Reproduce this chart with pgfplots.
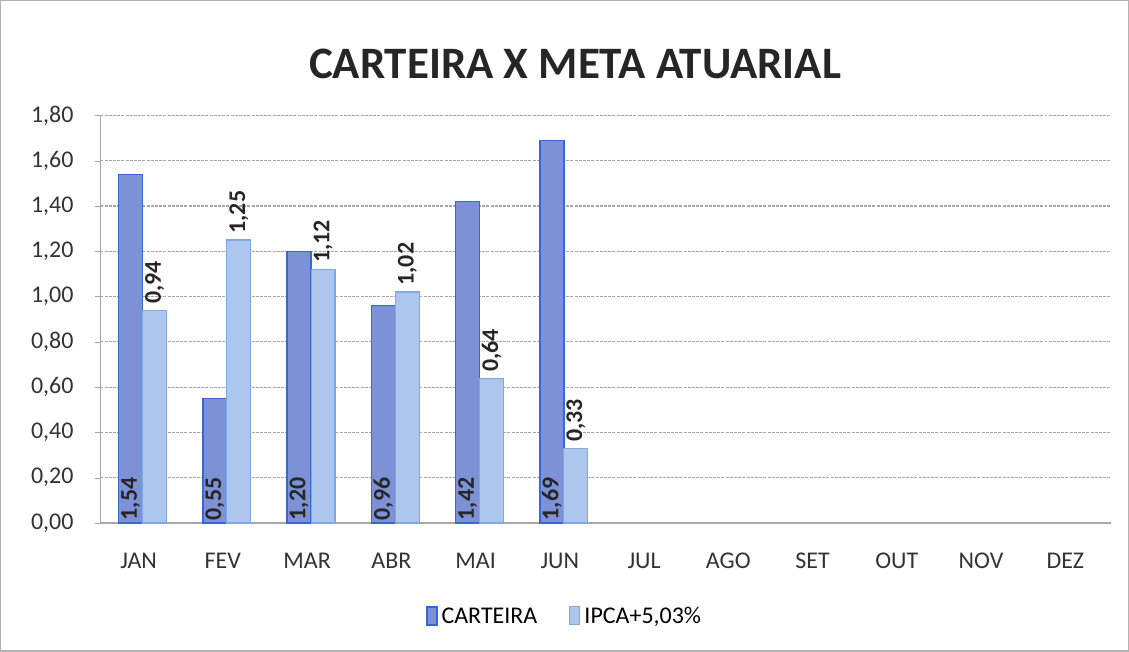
\documentclass[border=0pt]{standalone}
\usepackage{pgfplots}
\pgfplotsset{compat=1.18}
\usepackage{fontspec}
\setmainfont{Carlito}
\definecolor{cartfill}{RGB}{125,145,215}
\definecolor{cartdraw}{RGB}{55,105,210}
\definecolor{ipcafill}{RGB}{172,198,238}
\definecolor{ipcadraw}{RGB}{125,170,230}
\begin{document}
\begin{tikzpicture}
\draw[gray!60, line width=0.6pt] (0,0) rectangle (564.5pt,325.5pt);
\node[font=\bfseries\fontsize{22.5}{26}\selectfont, text=black!85] at (287.5pt,294pt) {CARTEIRA X META ATUARIAL};
\begin{axis}[
  at={(50pt,64pt)}, anchor=south west,
  scale only axis, width=506pt, height=204pt,
  ybar=0pt, bar width=12pt,
  xmin=-0.5, xmax=11.5, ymin=0, ymax=1.8,
  xtick={0,...,11},
  xticklabels={JAN,FEV,MAR,ABR,MAI,JUN,JUL,AGO,SET,OUT,NOV,DEZ},
  ytick={0,0.2,...,1.8},
  /pgf/number format/assume math mode=true,
  /pgf/number format/fixed, /pgf/number format/fixed zerofill,
  /pgf/number format/precision=2, /pgf/number format/use comma,
  yticklabel style={font=\fontsize{12}{14}\selectfont, text=black!80, xshift=-7pt},
  xticklabel style={font=\fontsize{12}{14}\selectfont, text=black!80, yshift=-8.5pt, xshift=-2pt},
  major x tick style={draw=none},
  major y tick style={draw=gray!70},
  tick align=outside, major tick length=3pt,
  ymajorgrids, major grid style={gray!70, line width=0.6pt, dash pattern=on 1.5pt off 0.6pt},
  axis x line*=bottom, axis y line*=left,
  axis line style={draw=gray!70, line width=0.6pt, -},
  legend style={at={(0.46,-0.23)}, anchor=center, draw=none, legend columns=2,
    font=\fontsize{12}{14}\selectfont, /tikz/every even column/.append style={column sep=14pt}},
  legend image code/.code={\draw[#1] (0pt,-4pt) rectangle (5pt,5pt);},
  nodes near coords,
  every node near coord/.append style={font=\bfseries\fontsize{12}{14}\selectfont, text=black!85},
]
\addplot[fill=cartfill, draw=cartdraw, line width=0.8pt,
  visualization depends on={y \as \rawy},
  every node near coord/.append style={shift={(axis direction cs:0,-\rawy)}, rotate=90, anchor=west, inner sep=1pt}]
  coordinates {(0,1.54) (1,0.55) (2,1.20) (3,0.96) (4,1.42) (5,1.69)};
\addplot[fill=ipcafill, draw=ipcadraw, line width=0.6pt,
  every node near coord/.append style={rotate=90, anchor=west, inner sep=3pt}]
  coordinates {(0,0.94) (1,1.25) (2,1.12) (3,1.02) (4,0.64) (5,0.33)};
\legend{CARTEIRA, {IPCA+5{,}03\%}}
\end{axis}
\end{tikzpicture}
\end{document}
